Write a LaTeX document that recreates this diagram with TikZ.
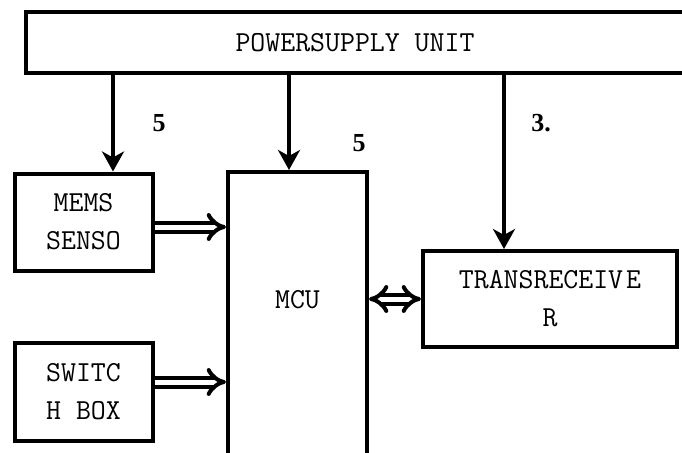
\documentclass[tikz,border=0pt]{standalone}
\usepackage{fontspec}
\setmainfont{Liberation Serif}
\usepackage{tikz}
\usetikzlibrary{positioning,arrows.meta}

\begin{document}
\begin{tikzpicture}[x=1pt,y=-1pt,
    blocktext/.style={font=\ttfamily\fontsize{29}{38}\selectfont, align=center},
    block/.style={draw, line width=4pt, blocktext, inner sep=0pt},
    pwr/.style={line width=3.5pt, -{Stealth[length=20pt,width=22pt,inset=6pt]}},
    bus/.style={double, line width=4pt, double distance=5pt, -{Implies[scale=1.3]}},
    val/.style={font=\bfseries\fontsize{26}{26}\selectfont}]
  \useasboundingbox (0,0) rectangle (682,452);
  \clip (0,0) rectangle (682,452);
  % blocks
  \node[block, minimum width=658pt, minimum height=61pt] (psu) at (355,42.5) {POWERSUPPLY UNIT};
  \node[block, minimum width=138pt, minimum height=97pt] (mems) at (83.5,222) {MEMS\\SENSO};
  \node[block, minimum width=138pt, minimum height=98pt] (sw) at (83.5,392) {SWITC\\H BOX};
  \node[block, minimum width=139pt, minimum height=296pt,
    label={[blocktext, yshift=20pt]center:MCU}] (mcu) at (297.5,320) {};
  \node[block, minimum width=254pt, minimum height=96pt] (trx) at (550,299) {TRANSRECEIV\hspace{3pt}E\\R};
  % supply values
  \node[val] (v1) at (159,123) {5};
  \node[val] (v2) at (359,143) {5};
  \node[val] (v3) at (541,123) {3.};
  % supply lines
  \coordinate (tapA) at (113,0);
  \coordinate (tapB) at (289,0);
  \coordinate (tapC) at (504,0);
  \draw[pwr] (psu.south -| tapA) -- (tapA |- mems.north);
  \draw[pwr] (psu.south -| tapB) -- (tapB |- mcu.north);
  \draw[pwr] (psu.south -| tapC) -- (tapC |- trx.north);
  % data lines
  \draw[bus] ([yshift=-5pt]mems.east) -- ([yshift=-5pt]mems.east -| mcu.west);
  \draw[bus] ([yshift=10pt]sw.east) -- ([yshift=10pt]sw.east -| mcu.west);
  \draw[bus, {Implies[scale=1.3]}-{Implies[scale=1.3]}] (mcu.east |- trx.west) -- (trx.west);
\end{tikzpicture}
\end{document}
